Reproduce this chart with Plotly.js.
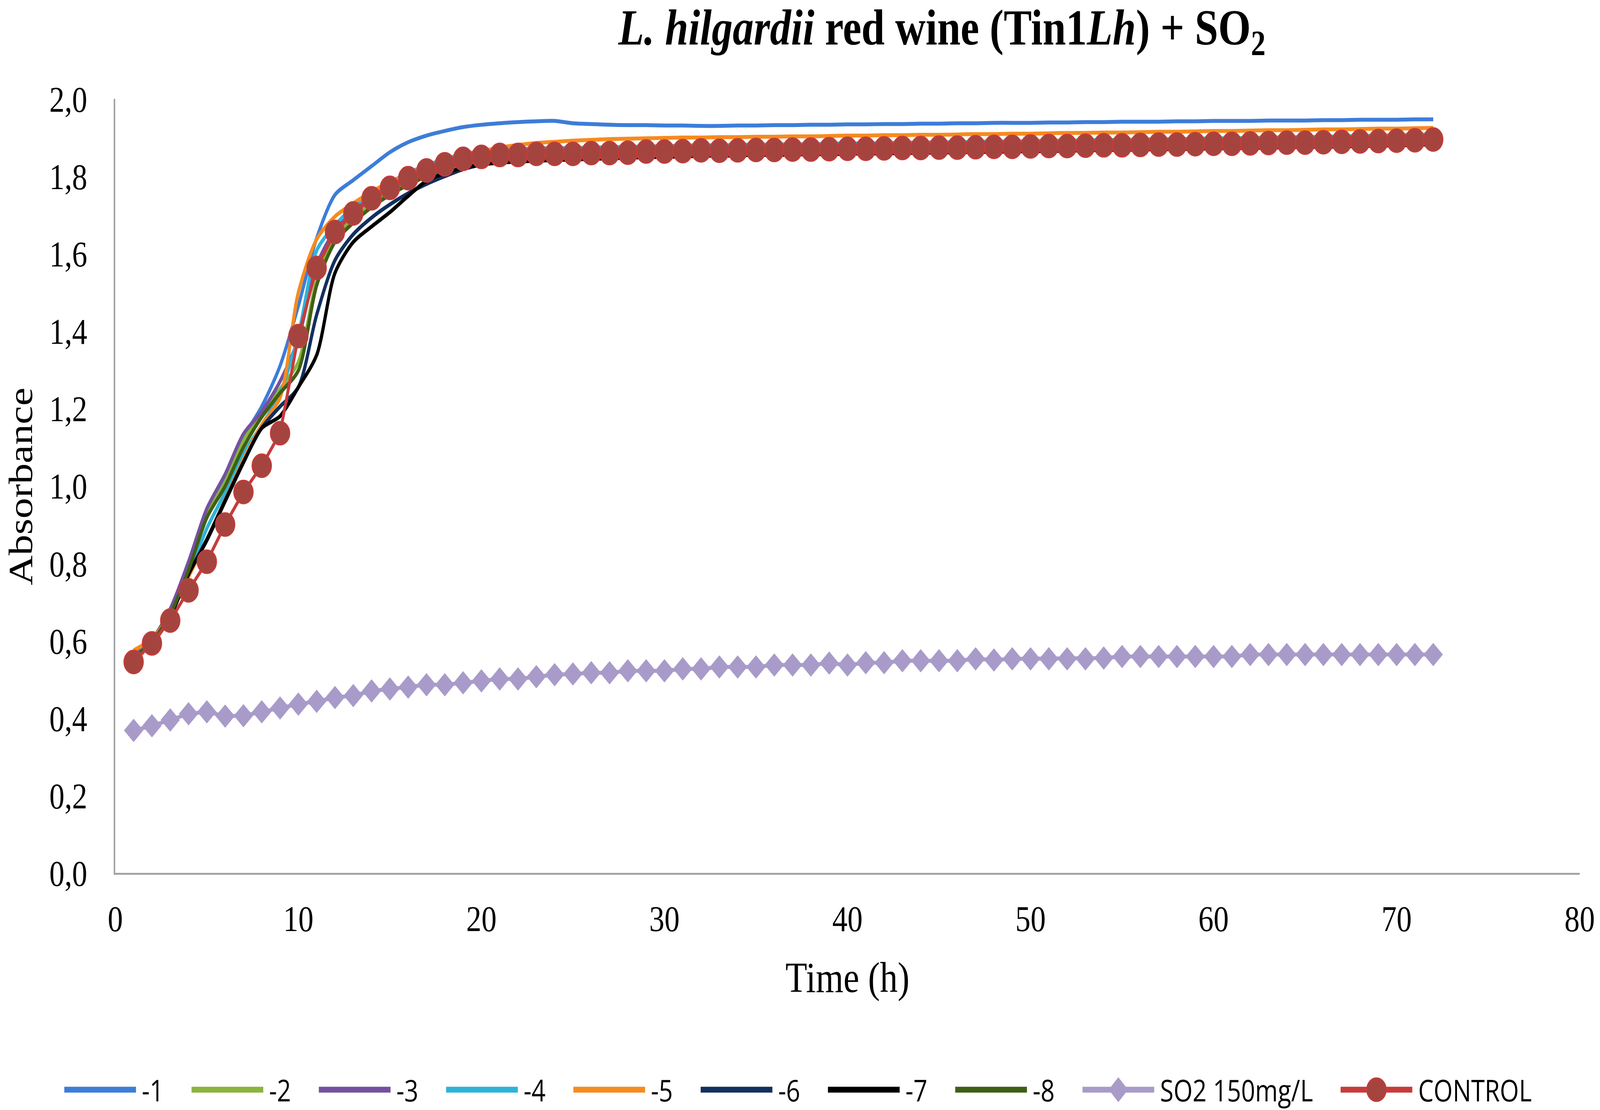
<!DOCTYPE html>
<html>
<head>
<meta charset="utf-8">
<script src="https://cdn.plot.ly/plotly-3.0.1.min.js"></script>
<style>
    html, body { margin: 0; padding: 0; background: #ffffff; overflow: hidden; }
    #chart { position: absolute; left: 0; top: 0; width: 4953px; height: 2841px; transform-origin: 0 0; }
</style>
</head>
<body>
<div id="chart"></div>
<script>
// Hours of incubation (x values).
var hours = [
    1, 2, 3, 4, 5, 6, 7, 8, 9, 10, 11, 12,
    13, 14, 15, 16, 17, 18, 19, 20, 21, 22, 23, 24,
    25, 26, 27, 28, 29, 30, 31, 32, 33, 34, 35, 36,
    37, 38, 39, 40, 41, 42, 43, 44, 45, 46, 47, 48,
    49, 50, 51, 52, 53, 54, 55, 56, 57, 58, 59, 60,
    61, 62, 63, 64, 65, 66, 67, 68, 69, 70, 71, 72
];

// Absorbance readings, one array per series.
var series1 = [
    0.560, 0.600, 0.672, 0.790, 0.925, 1.015, 1.125, 1.205, 1.310, 1.465, 1.640, 1.752,
    1.790, 1.826, 1.862, 1.888, 1.905, 1.917, 1.927, 1.933, 1.937, 1.940, 1.942, 1.943,
    1.937, 1.935, 1.933, 1.932, 1.932, 1.931, 1.931, 1.930, 1.930, 1.931, 1.931, 1.932,
    1.932, 1.933, 1.933, 1.934, 1.934, 1.935, 1.935, 1.936, 1.936, 1.937, 1.937, 1.938,
    1.938, 1.938, 1.939, 1.939, 1.940, 1.940, 1.941, 1.941, 1.941, 1.942, 1.942, 1.943,
    1.943, 1.943, 1.944, 1.944, 1.944, 1.945, 1.945, 1.946, 1.946, 1.946, 1.947, 1.947
];
var series2 = [
    0.558, 0.600, 0.672, 0.790, 0.925, 1.010, 1.119, 1.184, 1.250, 1.320, 1.530, 1.640,
    1.692, 1.732, 1.762, 1.787, 1.808, 1.825, 1.839, 1.847, 1.852, 1.853, 1.855, 1.856,
    1.856, 1.858, 1.858, 1.859, 1.861, 1.862, 1.863, 1.864, 1.864, 1.865, 1.866, 1.866,
    1.867, 1.867, 1.868, 1.869, 1.869, 1.870, 1.871, 1.871, 1.872, 1.872, 1.873, 1.874,
    1.874, 1.875, 1.876, 1.876, 1.877, 1.878, 1.878, 1.879, 1.880, 1.880, 1.881, 1.882,
    1.882, 1.883, 1.884, 1.885, 1.885, 1.886, 1.887, 1.888, 1.889, 1.890, 1.891, 1.893
];
var series3 = [
    0.562, 0.603, 0.682, 0.804, 0.941, 1.030, 1.134, 1.192, 1.270, 1.380, 1.570, 1.660,
    1.708, 1.746, 1.773, 1.798, 1.818, 1.834, 1.847, 1.853, 1.857, 1.858, 1.860, 1.861,
    1.861, 1.862, 1.863, 1.864, 1.866, 1.867, 1.868, 1.869, 1.869, 1.870, 1.871, 1.871,
    1.872, 1.872, 1.873, 1.874, 1.874, 1.875, 1.876, 1.876, 1.877, 1.877, 1.878, 1.879,
    1.879, 1.880, 1.881, 1.881, 1.882, 1.883, 1.883, 1.884, 1.885, 1.885, 1.886, 1.887,
    1.887, 1.888, 1.889, 1.890, 1.890, 1.891, 1.892, 1.893, 1.894, 1.895, 1.896, 1.898
];
var series4 = [
    0.558, 0.598, 0.668, 0.770, 0.890, 0.983, 1.084, 1.157, 1.240, 1.390, 1.608, 1.673,
    1.720, 1.757, 1.784, 1.808, 1.828, 1.844, 1.857, 1.864, 1.868, 1.870, 1.872, 1.873,
    1.873, 1.874, 1.875, 1.876, 1.877, 1.878, 1.879, 1.880, 1.880, 1.881, 1.882, 1.882,
    1.883, 1.883, 1.884, 1.885, 1.885, 1.886, 1.887, 1.887, 1.888, 1.888, 1.889, 1.890,
    1.890, 1.891, 1.892, 1.892, 1.893, 1.894, 1.894, 1.895, 1.896, 1.896, 1.897, 1.898,
    1.898, 1.899, 1.900, 1.901, 1.901, 1.902, 1.903, 1.904, 1.905, 1.906, 1.907, 1.908
];
var series5 = [
    0.575, 0.605, 0.668, 0.765, 0.862, 0.965, 1.068, 1.158, 1.228, 1.500, 1.637, 1.696,
    1.730, 1.760, 1.785, 1.804, 1.822, 1.838, 1.852, 1.864, 1.874, 1.881, 1.886, 1.889,
    1.892, 1.894, 1.896, 1.897, 1.898, 1.899, 1.900, 1.900, 1.901, 1.901, 1.902, 1.902,
    1.903, 1.903, 1.904, 1.905, 1.905, 1.906, 1.906, 1.907, 1.907, 1.908, 1.909, 1.909,
    1.910, 1.910, 1.911, 1.912, 1.912, 1.913, 1.913, 1.914, 1.915, 1.915, 1.916, 1.917,
    1.917, 1.918, 1.919, 1.919, 1.920, 1.921, 1.921, 1.922, 1.923, 1.923, 1.924, 1.925
];
var series6 = [
    0.555, 0.595, 0.665, 0.772, 0.862, 0.963, 1.062, 1.150, 1.205, 1.255, 1.442, 1.583,
    1.650, 1.693, 1.727, 1.756, 1.780, 1.800, 1.818, 1.830, 1.838, 1.842, 1.845, 1.847,
    1.848, 1.850, 1.850, 1.851, 1.854, 1.855, 1.856, 1.857, 1.857, 1.858, 1.859, 1.859,
    1.860, 1.860, 1.861, 1.862, 1.862, 1.863, 1.864, 1.864, 1.865, 1.865, 1.866, 1.867,
    1.867, 1.868, 1.869, 1.869, 1.870, 1.871, 1.871, 1.872, 1.873, 1.873, 1.874, 1.875,
    1.875, 1.876, 1.877, 1.878, 1.878, 1.879, 1.880, 1.881, 1.882, 1.883, 1.884, 1.886
];
var series7 = [
    0.553, 0.592, 0.662, 0.771, 0.859, 0.960, 1.060, 1.149, 1.180, 1.255, 1.338, 1.550,
    1.630, 1.670, 1.707, 1.749, 1.788, 1.808, 1.822, 1.830, 1.835, 1.838, 1.840, 1.842,
    1.843, 1.845, 1.846, 1.848, 1.849, 1.850, 1.851, 1.853, 1.853, 1.854, 1.855, 1.855,
    1.856, 1.857, 1.857, 1.858, 1.859, 1.859, 1.860, 1.861, 1.861, 1.862, 1.863, 1.863,
    1.864, 1.865, 1.865, 1.866, 1.867, 1.868, 1.868, 1.869, 1.870, 1.870, 1.871, 1.872,
    1.873, 1.873, 1.874, 1.875, 1.876, 1.876, 1.877, 1.878, 1.879, 1.880, 1.881, 1.883
];
var series8 = [
    0.556, 0.598, 0.668, 0.782, 0.918, 0.999, 1.100, 1.178, 1.240, 1.298, 1.518, 1.630,
    1.680, 1.720, 1.752, 1.778, 1.800, 1.819, 1.833, 1.840, 1.844, 1.846, 1.848, 1.849,
    1.850, 1.852, 1.852, 1.853, 1.856, 1.856, 1.857, 1.859, 1.858, 1.859, 1.860, 1.860,
    1.861, 1.861, 1.862, 1.863, 1.863, 1.864, 1.865, 1.865, 1.866, 1.866, 1.867, 1.868,
    1.868, 1.869, 1.870, 1.870, 1.871, 1.872, 1.872, 1.873, 1.874, 1.874, 1.875, 1.876,
    1.876, 1.877, 1.878, 1.879, 1.879, 1.880, 1.881, 1.882, 1.883, 1.884, 1.885, 1.887
];
var so2Values = [
    0.368, 0.380, 0.395, 0.411, 0.416, 0.405, 0.406, 0.416, 0.426, 0.436, 0.443, 0.453,
    0.458, 0.470, 0.475, 0.480, 0.486, 0.486, 0.491, 0.496, 0.501, 0.501, 0.507, 0.512,
    0.514, 0.517, 0.517, 0.522, 0.522, 0.522, 0.527, 0.527, 0.532, 0.532, 0.532, 0.537,
    0.537, 0.537, 0.542, 0.537, 0.543, 0.543, 0.548, 0.548, 0.548, 0.548, 0.553, 0.550,
    0.553, 0.553, 0.553, 0.553, 0.553, 0.555, 0.559, 0.559, 0.559, 0.559, 0.559, 0.559,
    0.559, 0.564, 0.564, 0.564, 0.564, 0.564, 0.564, 0.564, 0.564, 0.564, 0.564, 0.564
];
var controlValues = [
    0.545, 0.593, 0.652, 0.730, 0.804, 0.900, 0.984, 1.052, 1.136, 1.387, 1.563, 1.656,
    1.704, 1.743, 1.770, 1.795, 1.815, 1.831, 1.845, 1.850, 1.855, 1.855, 1.858, 1.858,
    1.858, 1.860, 1.860, 1.861, 1.864, 1.864, 1.865, 1.867, 1.866, 1.867, 1.868, 1.868,
    1.869, 1.869, 1.870, 1.871, 1.871, 1.872, 1.873, 1.873, 1.874, 1.874, 1.875, 1.876,
    1.876, 1.877, 1.878, 1.878, 1.879, 1.880, 1.880, 1.881, 1.882, 1.882, 1.883, 1.884,
    1.884, 1.885, 1.886, 1.887, 1.887, 1.888, 1.889, 1.890, 1.891, 1.892, 1.893, 1.895
];

var seriesNames = ["-1", "-2", "-3", "-4", "-5", "-6", "-7", "-8", "SO2 150mg/L", "CONTROL"];
var lineSeries = [series1, series2, series3, series4, series5, series6, series7, series8];

var xTicks = [0, 10, 20, 30, 40, 50, 60, 70, 80];
var yTicks = [0, 0.2, 0.4, 0.6, 0.8, 1.0, 1.2, 1.4, 1.6, 1.8, 2.0];

var colors = ["#3d7dd8", "#8ab43e", "#7451a0", "#2fb3d8", "#f68b1f", "#12305f", "#000000", "#3f5f15", "#a99bc9", "#c83b3b"];
var controlFill = "#a5443e";

var W = 4953, H = 2841;
var margin = { l: 357, r: 63, t: 253, b: 607, pad: 0 };
var plotW = W - margin.l - margin.r;
var plotH = H - margin.t - margin.b;

var serif = "Liberation Serif, Times New Roman, serif";
var sans = "Open Sans, Noto Sans, sans-serif";

var data = [];
for (var i = 0; i < lineSeries.length; i++) {
    data.push({
        x: hours,
        y: lineSeries[i],
        name: seriesNames[i],
        type: "scatter",
        mode: "lines",
        line: { color: colors[i], width: 10, shape: "spline", smoothing: 0.8 },
        showlegend: false
    });
}
data.push({
    x: hours,
    y: so2Values,
    name: seriesNames[8],
    type: "scatter",
    mode: "lines+markers",
    line: { color: colors[8], width: 10 },
    marker: { symbol: "diamond", size: 46, color: colors[8] },
    showlegend: false
});
data.push({
    x: hours,
    y: controlValues,
    name: seriesNames[9],
    type: "scatter",
    mode: "lines+markers",
    line: { color: colors[9], width: 9 },
    marker: { symbol: "circle", size: 60, color: controlFill, line: { color: colors[9], width: 3 } },
    showlegend: false
});

// Legend is drawn by hand below the plot so the line samples are as long as in the original.
// Pixel positions are converted to paper coordinates.
function px2x(v) { return (v - margin.l) / plotW; }
function px2y(v) { return (margin.t + plotH - v) / plotH; }

var legendY = 2789;
var sampleLen = 222;
var shapes = [];
var annotations = [];
var slotX = 199;
for (var k = 0; k < seriesNames.length; k++) {
    var x0 = slotX;
    var mid = x0 + sampleLen / 2;
    shapes.push({
        type: "line", xref: "paper", yref: "paper",
        x0: px2x(x0), x1: px2x(x0 + sampleLen), y0: px2y(legendY), y1: px2y(legendY),
        line: { color: colors[k], width: 15 }
    });
    if (k == 8) {
        shapes.push({
            type: "path", xref: "paper", yref: "paper",
            xsizemode: "pixel", ysizemode: "pixel",
            xanchor: px2x(mid), yanchor: px2y(legendY),
            path: "M-30,0L0,32L30,0L0,-32Z",
            fillcolor: colors[8], line: { width: 0 }
        });
    }
    if (k == 9) {
        shapes.push({
            type: "circle", xref: "paper", yref: "paper",
            xsizemode: "pixel", ysizemode: "pixel",
            xanchor: px2x(mid), yanchor: px2y(legendY),
            x0: -30, x1: 30, y0: -30, y1: 30,
            fillcolor: controlFill, line: { color: colors[9], width: 3 }
        });
    }
    annotations.push({
        text: seriesNames[k], xref: "paper", yref: "paper",
        x: px2x(x0 + 238), y: px2y(legendY),
        xanchor: "left", yanchor: "middle", showarrow: false,
        font: { family: sans, size: 76, color: "#000000" }
    });
    slotX += (k == 8) ? 799 : 394;
}

// Y axis title as an annotation, placed at the same spot as in the original.
annotations.push({
    text: "Absorbance", xref: "paper", yref: "paper",
    x: px2x(63), y: px2y(1245), textangle: -90,
    xanchor: "center", yanchor: "middle", showarrow: false,
    font: { family: serif, size: 106, color: "#000000" }
});

var layout = {
    width: W,
    height: H,
    paper_bgcolor: "#ffffff",
    plot_bgcolor: "#ffffff",
    margin: margin,
    separators: ",.",
    showlegend: false,
    title: {
        text: "<b><i>L. hilgardii</i> red wine (Tin1<i>Lh</i>) + SO<sub>2</sub></b>",
        font: { family: serif, size: 130, color: "#000000" },
        xref: "container", yref: "container",
        x: 2916 / W, xanchor: "center",
        y: 1 - 68 / H, yanchor: "middle"
    },
    xaxis: {
        range: [0, 80],
        tickvals: xTicks,
        showgrid: false,
        zeroline: false,
        showline: true,
        linecolor: "#a3a3a3",
        linewidth: 5,
        ticks: "",
        ticklabelstandoff: 31,
        tickfont: { family: serif, size: 94, color: "#000000" },
        title: { text: "Time (h)", font: { family: serif, size: 110, color: "#000000" }, standoff: 62 },
        automargin: false,
        fixedrange: true
    },
    yaxis: {
        range: [0, 2.0],
        tickvals: yTicks,
        tickformat: ".1f",
        showgrid: false,
        zeroline: false,
        showline: true,
        linecolor: "#a3a3a3",
        linewidth: 5,
        ticks: "",
        ticklabelstandoff: 63,
        tickfont: { family: serif, size: 94, color: "#000000" },
        automargin: false,
        fixedrange: true
    },
    shapes: shapes,
    annotations: annotations
};

// The chart is laid out for 4953 x 2841; if the window is a different size, scale the whole
// chart to fill it so the proportions stay those of the original picture.
var chartDiv = document.getElementById("chart");
var sx = window.innerWidth / W;
var sy = window.innerHeight / H;
if (sx > 0 && sy > 0 && (Math.abs(sx - 1) > 0.001 || Math.abs(sy - 1) > 0.001)) {
    chartDiv.style.transform = "scale(" + sx + "," + sy + ")";
}

Plotly.newPlot(chartDiv, data, layout, { displayModeBar: false, staticPlot: true });
</script>
</body>
</html>
